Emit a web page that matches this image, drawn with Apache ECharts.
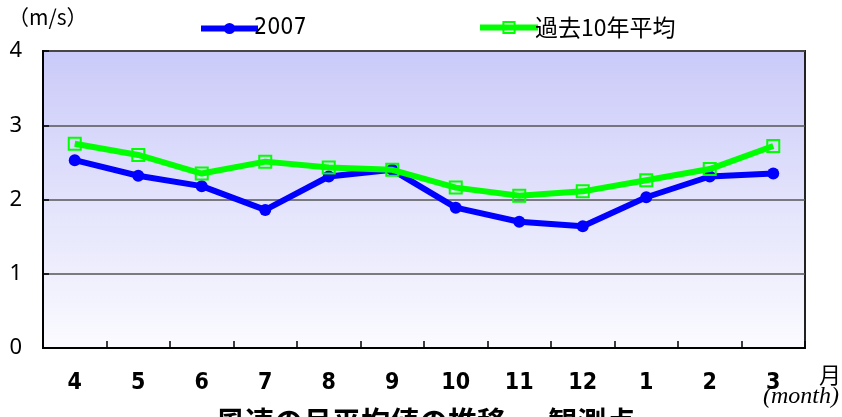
<!DOCTYPE html>
<html>
<head>
<meta charset="utf-8">
<script src="https://cdn.jsdelivr.net/npm/echarts@6/dist/echarts.min.js"></script>
<style>
  html, body { margin: 0; padding: 0; background: #ffffff; }
  #chart { width: 842px; height: 417px; }
</style>
</head>
<body>
<div id="chart"></div>
<script>
// Months of the fiscal year (April to March)
const months = ['4', '5', '6', '7', '8', '9', '10', '11', '12', '1', '2', '3'];
// Monthly mean wind speed (m/s)
const wind2007 = [2.53, 2.32, 2.18, 1.86, 2.31, 2.40, 1.89, 1.70, 1.64, 2.03, 2.31, 2.35];
const wind10yrAvg = [2.75, 2.60, 2.35, 2.51, 2.43, 2.40, 2.16, 2.05, 2.11, 2.26, 2.41, 2.72];
const yTicks = { min: 0, max: 4, interval: 1 };

const chart = echarts.init(document.getElementById('chart'), null, { renderer: 'canvas' });

const legendText = {
  fontSize: 23,
  color: '#000',
  fontFamily: '"DejaVu Sans Condensed", "Noto Sans CJK JP", sans-serif'
};

chart.setOption({
  animation: false,
  backgroundColor: '#ffffff',
  grid: {
    left: 43, right: 37, top: 51, bottom: 69,
    show: true,
    borderColor: '#222',
    borderWidth: 2,
    backgroundColor: new echarts.graphic.LinearGradient(0, 0, 0, 1, [
      { offset: 0, color: '#cacaf9' },
      { offset: 1, color: '#fbfbff' }
    ])
  },
  legend: [
    {
      data: ['2007'], left: 193, top: 12, itemWidth: 57, itemHeight: 14, itemGap: 0,
      lineStyle: { width: 6 },
      textStyle: Object.assign({}, legendText, { padding: [0, 0, 0, -9] })
    },
    {
      data: ['過去10年平均'], left: 472, top: 11, itemWidth: 58, itemHeight: 14, itemGap: 0,
      lineStyle: { width: 6 },
      textStyle: Object.assign({}, legendText, { fontSize: 23, fontFamily: '"Noto Sans CJK JP", sans-serif', padding: [0, 0, 0, -8] })
    }
  ],
  xAxis: {
    type: 'category',
    data: months,
    boundaryGap: true,
    axisLine: { lineStyle: { color: '#000', width: 2 } },
    axisTick: { show: true, inside: true, length: 7, interval: 0, lineStyle: { color: '#000', width: 1.5 } },
    axisLabel: {
      margin: 24, interval: 0, color: '#000', fontSize: 23, fontWeight: 'bold',
      fontFamily: '"DejaVu Sans Condensed", sans-serif'
    },
    splitLine: { show: false }
  },
  yAxis: {
    type: 'value',
    min: yTicks.min, max: yTicks.max, interval: yTicks.interval,
    axisLine: { show: true, lineStyle: { color: '#000', width: 2 } },
    axisTick: { show: true, inside: true, length: 6, lineStyle: { color: '#000', width: 1.5 } },
    axisLabel: {
      margin: 21, color: '#000', fontSize: 22,
      fontFamily: '"Noto Sans", sans-serif'
    },
    splitLine: { show: true, lineStyle: { color: '#555', width: 1.5 } }
  },
  series: [
    {
      name: '2007',
      type: 'line',
      data: wind2007,
      z: 2,
      symbol: 'circle',
      symbolSize: 12,
      lineStyle: { color: '#0000ff', width: 6 },
      itemStyle: { color: '#0000ff', borderColor: '#0000ff', borderWidth: 0 }
    },
    {
      name: '過去10年平均',
      type: 'line',
      data: wind10yrAvg,
      z: 3,
      symbol: 'rect',
      symbolSize: 12,
      lineStyle: { color: '#00ff00', width: 6 },
      itemStyle: { color: 'rgba(0,0,0,0)', borderColor: '#00ff00', borderWidth: 2 }
    }
  ],
  graphic: [
    {
      type: 'text', left: 8, top: 7,
      style: { text: '（m/s）', fontSize: 21, fill: '#000', fontFamily: '"Noto Sans CJK JP", sans-serif' }
    },
    {
      type: 'text', left: 819, top: 364,
      style: { text: '月', fontSize: 22, fill: '#000', fontFamily: '"Noto Sans CJK JP", sans-serif' }
    },
    {
      type: 'text', left: 763, top: 385,
      style: { text: '(month)', fontSize: 24, fontStyle: 'italic', fill: '#000', fontFamily: '"Liberation Serif", serif' }
    },
    {
      type: 'text', left: 216, top: 407,
      style: {
        text: '風速の月平均値の推移 － 観測点', fontSize: 29, fontWeight: 'bold', fill: '#000',
        fontFamily: '"Noto Sans CJK JP", sans-serif'
      }
    }
  ]
});
</script>
</body>
</html>
